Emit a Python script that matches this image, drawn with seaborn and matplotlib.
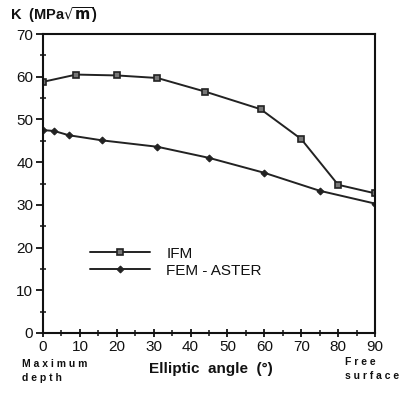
import matplotlib
matplotlib.use("Agg")
import matplotlib.pyplot as plt
import seaborn as sns
import pandas as pd
from matplotlib.ticker import MultipleLocator

ifm_angle = [0, 9, 20, 31, 44, 59, 70, 80, 90]
ifm_k = [58.8, 60.5, 60.3, 59.7, 56.5, 52.4, 45.4, 34.7, 32.7]
fem_angle = [0, 3, 7, 16, 31, 45, 60, 75, 90]
fem_k = [47.5, 47.3, 46.3, 45.1, 43.6, 41.0, 37.5, 33.3, 30.3]
series_names = ["IFM", "FEM - ASTER"]
x_ticks = [0, 10, 20, 30, 40, 50, 60, 70, 80, 90]
y_ticks = [0, 10, 20, 30, 40, 50, 60, 70]

sns.set_style("ticks")
plt.rcParams['font.family'] = ['Liberation Sans', 'DejaVu Sans']

df_ifm = pd.DataFrame({"angle": ifm_angle, "K": ifm_k, "series": series_names[0]})
df_fem = pd.DataFrame({"angle": fem_angle, "K": fem_k, "series": series_names[1]})

fig = plt.figure(figsize=(4.10, 3.96), dpi=100)
ax = fig.add_axes([43/410, 1 - 333/396, 332/410, 299/396])

sns.lineplot(data=df_ifm, x="angle", y="K", ax=ax, color="#222222", lw=1.4,
             marker="s", markersize=5, markerfacecolor="#777777",
             markeredgecolor="#222222", markeredgewidth=1.2, label=series_names[0])
sns.lineplot(data=df_fem, x="angle", y="K", ax=ax, color="#222222", lw=1.4,
             marker="D", markersize=3.5, markerfacecolor="#222222",
             markeredgecolor="#222222", label=series_names[1])

ax.set_xlim(0, 90)
ax.set_ylim(0, 70)
ax.set_xticks(x_ticks)
ax.set_yticks(y_ticks)
ax.xaxis.set_minor_locator(MultipleLocator(5))
ax.yaxis.set_minor_locator(MultipleLocator(5))
ax.tick_params(axis='both', which='major', labelsize=11, width=1.3, length=5,
               color="#111111", labelcolor="#111111")
ax.tick_params(axis='x', which='major', direction='inout', length=6, pad=2)
ax.tick_params(axis='y', which='major', direction='out', length=5, pad=2)
ax.tick_params(axis='both', which='minor', direction='inout', length=4, width=1.1,
               color="#111111")
for s in ax.spines.values():
    s.set_linewidth(1.5)
    s.set_color("#111111")
ax.set_xlabel("")
ax.set_ylabel("")

leg = ax.legend(loc='upper left', bbox_to_anchor=(0.1, 0.335), frameon=False,
                handlelength=3.9, handletextpad=1.1, labelspacing=0.2,
                prop={'size': 11})
for t in leg.get_texts():
    t.set_color("#111111")

fig.text(10/410, 1 - 15/396, r"K  (MPa$\sqrt{\mathbf{m}}$)", fontsize=10.5,
         fontweight='bold', va='center', ha='left', color="#111111")
fig.text(22/410, 1 - 371/396, "M a x i m u m\nd e p t h", fontsize=7.5,
         fontweight='bold', va='center', ha='left', linespacing=1.4, color="#111111")
fig.text(211/410, 1 - 369/396, "Elliptic  angle  (°)", fontsize=11,
         fontweight='bold', va='center', ha='center', color="#111111")
fig.text(345/410, 1 - 369/396, "F r e e\ns u r f a c e", fontsize=7.5,
         fontweight='bold', va='center', ha='left', linespacing=1.4, color="#111111")

fig.savefig("out.png", dpi=100)
